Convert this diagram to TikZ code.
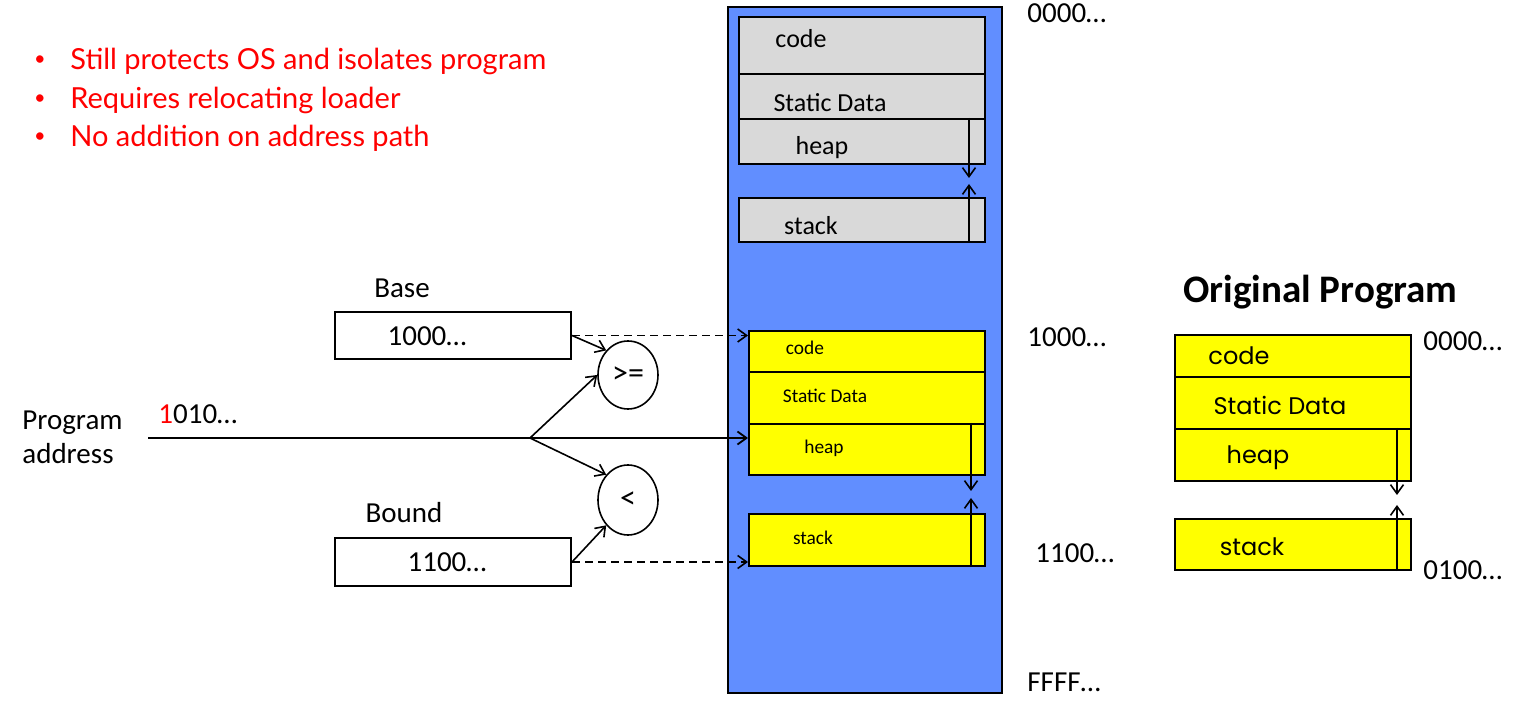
\documentclass[tikz,border=0pt]{standalone}
\usepackage{fontspec}
\setmainfont{Carlito}
\newfontfamily\listfont{Lato}
\newfontfamily\casualfont{Poppins}
\usetikzlibrary{shapes.geometric,arrows.meta}
\definecolor{memblue}{RGB}{97,142,255}
\definecolor{seggrey}{RGB}{217,217,217}
\definecolor{segyellow}{RGB}{255,255,0}
\definecolor{notered}{RGB}{255,0,0}

\begin{document}
\begin{tikzpicture}
		[
		x=0.5pt,y=-0.5pt,
		font=\fontsize{14.5}{17}\selectfont,
		>={Straight Barb[length=4.5pt,width=6.5pt]},
		every node/.style={inner sep=0pt}
		]
		\useasboundingbox(0,0)rectangle(1528,711);
		
		% Node styles: segments, registers and comparators
		\tikzstyle{seg}=[draw,line width=1pt,anchor=north west,minimum width=118pt]
		\tikzstyle{grey seg}=[seg,fill=seggrey,minimum width=123pt]
		\tikzstyle{yellow seg}=[seg,fill=segyellow]
		\tikzstyle{reg box}=[draw,line width=1pt,anchor=north west,minimum width=118pt]
		\tikzstyle{cmp}=[ellipse,draw,line width=0.8pt,minimum width=30pt,minimum height=34pt,font=\fontsize{16}{18}\selectfont]
		\tikzstyle{grow line}=[->,line width=0.8pt]
		\tikzstyle{link}=[->,line width=0.8pt]
		\tikzstyle{big label}=[font=\fontsize{13}{15}\selectfont]
		\tikzstyle{small label}=[font=\fontsize{9.7}{11}\selectfont]
		\tikzstyle{casual label}=[font=\casualfont\fontsize{12}{14}\selectfont]
		
		% Physical memory
		\node[draw,line width=1pt,fill=memblue,anchor=north west,minimum width=137pt,minimum height=343pt](mem)at(727,6){};
		
		% OS segments (grey)
		\node[grey seg,minimum height=28.5pt](g-code)at(738,16){};
		\node[grey seg,minimum height=22.5pt](g-data)at(738,73){};
		\node[grey seg,minimum height=22.5pt](g-heap)at(738,118){};
		\node[grey seg,minimum height=22pt](g-stack)at(738,197){};
		\node[big label]at(801,39){code};
		\node[big label]at(830,103){Static Data};
		\node[big label]at(822,148){heap};
		\node[big label]at(811,226){stack};
		
		% Relocated program (yellow)
		\node[yellow seg,minimum height=20.5pt](y-code)at(748,330){};
		\node[yellow seg,minimum height=26pt](y-data)at(748,371){};
		\node[yellow seg,minimum height=25.5pt](y-heap)at(748,423){};
		\node[yellow seg,minimum height=26pt](y-stack)at(748,513){};
		\node[small label]at(805,348){code};
		\node[small label]at(825,396){Static Data};
		\node[small label]at(824,448){heap};
		\node[small label]at(813,538){stack};
		
		% Original program
		\node[yellow seg,minimum height=21pt](o-code)at(1174,334){};
		\node[yellow seg,minimum height=26pt](o-data)at(1174,376){};
		\node[yellow seg,minimum height=26pt](o-heap)at(1174,428){};
		\node[yellow seg,minimum height=25.5pt](o-stack)at(1174,518){};
		\node[casual label]at(1239,356){code};
		\node[casual label]at(1280,405){Static Data};
		\node[casual label]at(1258,458){heap};
		\node[casual label]at(1252,547){stack};
		
		% Heap and stack growth
		\foreach \s/\dx/\dy in {g/8.5/6.5, y/7.5/7.5, o/7.5/6.5}{
			\draw[grow line]([xshift=-\dx pt]\s-heap.north east)--([xshift=-\dx pt,yshift=-\dy pt]\s-heap.south east);
			\draw[grow line]([xshift=-\dx pt]\s-stack.south east)--([xshift=-\dx pt,yshift=\dy pt]\s-stack.north east);
		}
		
		% Base and bound registers
		\node(basel)at(402,288){Base};
		\node[reg box,minimum height=23.5pt](base)at(334,311){};
		\node(basev)at(427,336){1000…};
		\node(boundl)at(404,513){Bound};
		\node[reg box,minimum height=24pt](bound)at(334,537){};
		\node(boundv)at(447,562){1100…};
		
		% Comparators
		\node[cmp](ge)at(628,375){>=};
		\node[cmp,minimum height=35pt](lt)at(628,500){<};
		
		% Program address
		\node[align=left,anchor=west](addr)at(22,437){Program\\address};
		\node[anchor=west](addrv)at(158,414){\textcolor{notered}{1}010…};
		\coordinate(src)at(148,438);
		\coordinate(fork)at(530,438);
		\draw[line width=0.9pt](src)--(fork);
		\draw[link,line width=0.9pt](fork)--(fork-|y-heap.west);
		\draw[link](fork)--(ge.west);
		\draw[link](fork)--(lt.north west);
		\draw[link](base.east)--(ge.north west);
		\draw[link](bound.east)--(lt.south west);
		\draw[link,dash pattern=on 4pt off 2.5pt](base.east)--(base.east-|y-code.west);
		\draw[link,dash pattern=on 4pt off 2.5pt](bound.east)--(bound.east-|y-stack.west);
		
		% Addresses
		\node[anchor=west](m0)at(1027,13){0000…};
		\node[anchor=west](m1)at(1027,337){1000…};
		\node[anchor=west](m2)at(1035,553){1100…};
		\node[anchor=west](m3)at(1027,682){FFFF…};
		\node[anchor=west,font=\bfseries\fontsize{19.5}{22}\selectfont](orig)at(1183,292){Original Program};
		\node[anchor=west](o0)at(1423,341){0000…};
		\node[anchor=west](o1)at(1423,570){0100…};
		
		% Notes
		\foreach \y/\t [count=\i] in {61/Still protects OS and isolates program,100/Requires relocating loader,138/No addition on address path}{
			\node[text=notered,font=\listfont\fontsize{10}{12}\selectfont](dot\i)at(40,\y){\textbullet};
			\node[anchor=west,text=notered,font=\listfont\fontsize{14.5}{17}\selectfont](item\i)at(70,\y){\t};
		}
\end{tikzpicture}
\end{document}
